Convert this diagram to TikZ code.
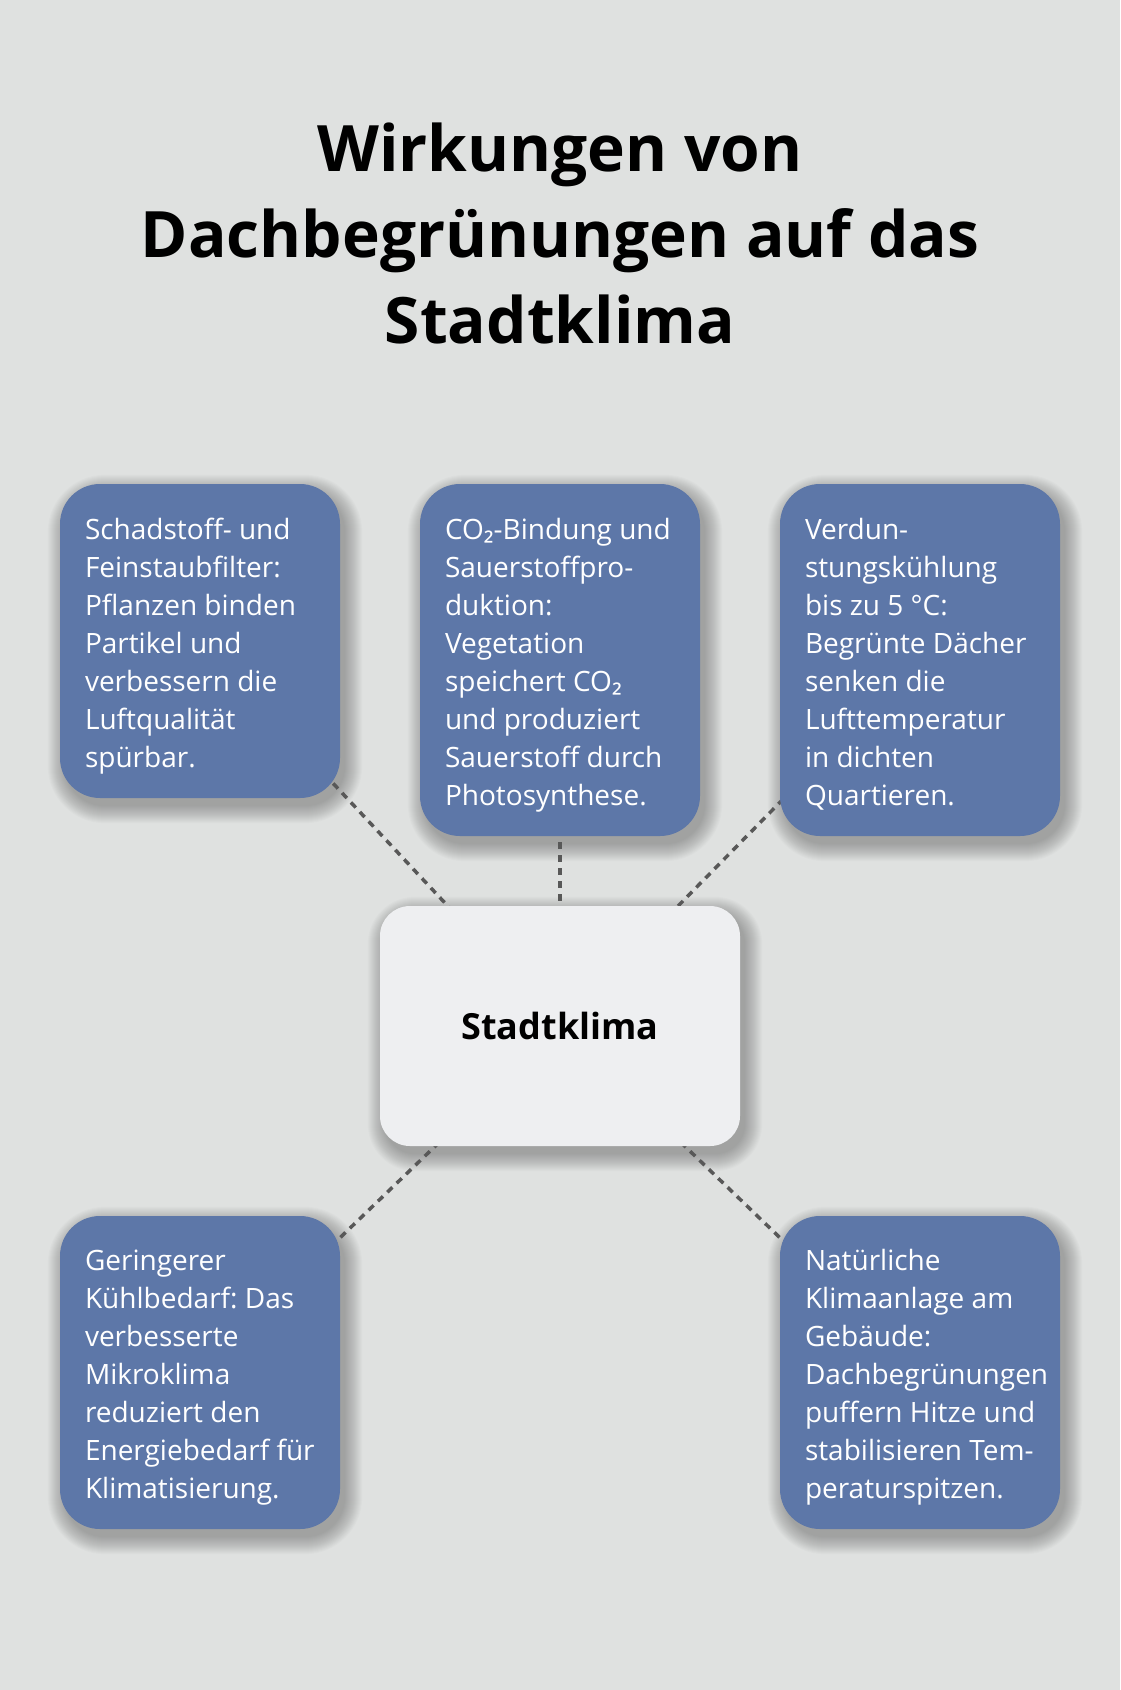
\documentclass[tikz,border=0pt]{standalone}
\usepackage{fontspec}
\setmainfont{Open Sans}
\newfontfamily\subfont{Noto Sans}
\pgfdeclarelayer{bottom}
\pgfdeclarelayer{shadow}
\pgfdeclarelayer{links}
\pgfsetlayers{bottom,shadow,links,main}
\definecolor{bg}{HTML}{DFE1E0}
\definecolor{boxblue}{HTML}{5D77A8}
\definecolor{centerfill}{HTML}{EEEFF1}
\definecolor{dashgray}{HTML}{585858}
\newcommand{\cotwo}{CO{\subfont ₂}}
\newcommand{\boxlines}[1]{\raisebox{0pt}[\dimexpr\height+9pt\relax][\depth]{\makebox[230pt][l]{\begin{tabular}{@{}l@{}}#1\end{tabular}}}}
\newcommand{\softshadow}[2]{%
  \begin{pgfonlayer}{shadow}
  \foreach \i in {0,...,17} {
    \fill[black, opacity=0.014, rounded corners={#2+\i*1pt}]
      ([shift={(5-\i,8-\i)}]#1.north west) rectangle ([shift={(5+\i,8+\i)}]#1.south east);
  }
  \end{pgfonlayer}}
\tikzset{
  infobox/.style={draw=none, fill=boxblue, rounded corners=40pt, minimum width=280pt,
    align=left, inner xsep=25pt, inner ysep=0pt, text=white,
    font=\fontsize{28pt}{38pt}\selectfont},
  hubbox/.style={draw=none, fill=centerfill, rounded corners=30pt, minimum width=360pt,
    minimum height=240pt, font=\fontsize{36pt}{44pt}\selectfont\bfseries, text=black},
  link/.style={draw=dashgray, line width=3.5pt, dash pattern=on 7pt off 6pt},
  titletext/.style={font=\fontsize{64pt}{86pt}\selectfont\bfseries, align=center, text=black}
}
\begin{document}
\frenchspacing
\begin{tikzpicture}[x=1pt, y=-1pt]
\begin{pgfonlayer}{bottom}
\fill[bg] (0,0) rectangle (1120,1690);
\end{pgfonlayer}
\useasboundingbox (0,0) rectangle (1120,1690);
\node[titletext] (title) at (560,233) {Wirkungen von\\Dachbegrünungen auf das\\Stadtklima};

\node[infobox, minimum height=314pt] (b1) at (200,641) {\boxlines{Schadstoff- und\\Feinstaubfilter:\\Pflanzen binden\\Partikel und\\verbessern die\\Luftqualität\\spürbar.}};
\node[infobox, minimum height=352pt] (b2) at (560,660) {\boxlines{\cotwo-Bindung und\\Sauerstoffpro-\\duktion:\\Vegetation\\speichert \cotwo\\und produziert\\Sauerstoff durch\\Photosynthese.}};
\node[infobox, minimum height=352pt] (b3) at (920,660) {\boxlines{Verdun-\\stungskühlung\\bis zu 5 °C:\\Begrünte Dächer\\senken die\\Lufttemperatur\\in dichten\\Quartieren.}};
\node[hubbox] (hub) at (560,1026) {Stadtklima};
\node[infobox, minimum height=313pt] (b4) at (200,1372.5) {\boxlines{Geringerer\\Kühlbedarf: Das\\verbesserte\\Mikroklima\\reduziert den\\Energiebedarf für\\Klimatisierung.}};
\node[infobox, minimum height=313pt] (b5) at (920,1372.5) {\boxlines{Natürliche\\Klimaanlage am\\Gebäude:\\Dachbegrünungen\\puffern Hitze und\\stabilisieren Tem-\\peraturspitzen.}};

\softshadow{b1}{40}
\softshadow{b2}{40}
\softshadow{b3}{40}
\softshadow{b4}{40}
\softshadow{b5}{40}
\softshadow{hub}{30}

\begin{pgfonlayer}{links}
\draw[link] (b1.center) -- (hub.center);
\draw[link] (b2.center) -- (hub.center);
\draw[link] (b3.center) -- (hub.center);
\draw[link] (b4.center) -- (hub.center);
\draw[link] (b5.center) -- (hub.center);
\end{pgfonlayer}
\end{tikzpicture}
\end{document}
